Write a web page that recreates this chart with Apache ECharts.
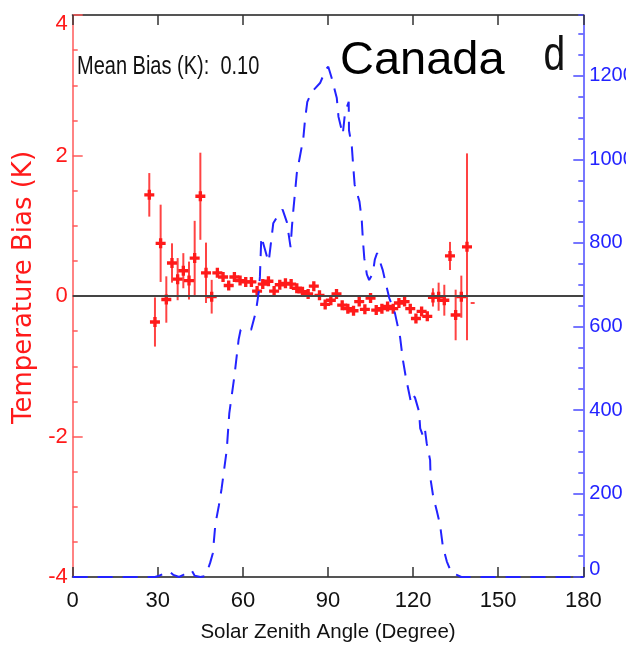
<!DOCTYPE html>
<html>
<head>
<meta charset="utf-8">
<script src="https://cdn.jsdelivr.net/npm/echarts@6/dist/echarts.min.js"></script>
<style>
html, body { margin: 0; padding: 0; background: #fff; }
#chart { width: 626px; height: 649px; }
</style>
</head>
<body>
<div id="chart"></div>
<script>
// Temperature bias binned by solar zenith angle (2-degree bins)
const zenithAngles = [27, 29, 31, 33, 35, 37, 39, 41, 43, 45, 47, 49, 51, 53, 55, 57, 59, 61, 63, 65,
  67, 69, 71, 73, 75, 77, 79, 81, 83, 85, 87, 89, 91, 93, 95, 97, 99, 101, 103, 105,
  107, 109, 111, 113, 115, 117, 119, 121, 123, 125, 127, 129, 131, 133, 135, 137, 139];
const tempBias = [1.44, -0.37, 0.75, -0.05, 0.47, 0.24, 0.36, 0.22, 0.54, 1.42, 0.33, -0.01, 0.33, 0.27, 0.15, 0.27, 0.22, 0.20, 0.20, 0.07,
  0.17, 0.21, 0.07, 0.16, 0.18, 0.17, 0.11, 0.06, 0.03, 0.14, 0.01, -0.12, -0.06, 0.03, -0.13, -0.18, -0.21, -0.08, -0.19, -0.03,
  -0.20, -0.18, -0.15, -0.18, -0.10, -0.08, -0.18, -0.32, -0.22, -0.29, -0.02, -0.01, -0.06, 0.57, -0.27, -0.01, 0.70];
const biasError = [0.31, 0.35, 0.55, 0.33, 0.28, 0.30, 0.25, 0.27, 0.53, 0.62, 0.43, 0.24, 0.06, 0.06, 0.06, 0.06, 0.06, 0.06, 0.06, 0.06,
  0.05, 0.05, 0.05, 0.05, 0.05, 0.05, 0.05, 0.05, 0.05, 0.05, 0.05, 0.05, 0.05, 0.05, 0.05, 0.05, 0.05, 0.06, 0.06, 0.06,
  0.06, 0.06, 0.06, 0.06, 0.06, 0.06, 0.06, 0.06, 0.06, 0.06, 0.13, 0.20, 0.22, 0.20, 0.36, 0.30, 1.33];
// Last bin with a single sample (no error estimate)
const tailAngle = [141];
const tailBias = [-0.1];

// Number of matchups per zenith angle
const countAngles = [0, 29, 30.5, 32, 34, 35.5, 37.5, 39, 40.5, 42, 43, 45, 46.5, 47.8, 48.5, 49.4, 50.3, 51.5, 52.5, 54.3,
  55.2, 57, 58.5, 59.2, 62.9, 64.6, 65.7, 66.0, 66.5, 68.8, 69.1, 70.7, 72.5, 74.0, 75.5, 76.8, 77.3, 77.8, 78.4, 79.0,
  80.1, 81.3, 81.9, 82.7, 84.3, 87.2, 88.4, 89.0, 90.1, 91.3, 93.1, 93.7, 95.2, 96.0, 97.3, 97.4, 98.4, 98.9, 99.4, 101.1,
  101.9, 102.3, 102.8, 103.7, 104.5, 105.8, 106.5, 107.3, 109.3, 110.1, 111.6, 113.6, 115.4, 116.4, 117.5, 119.2, 120.1, 120.7, 122.1, 122.5,
  123.6, 124.2, 124.8, 126.0, 126.2, 127.1, 128.3, 129.5, 130.5, 131.9, 133.5, 135.4, 137, 180];
const sampleCounts = [0, 0, 3, 8, 14, 5, 0, 5, 15, 15, 3, 0, 2, 21, 35, 57, 127, 170, 212, 304,
  392, 481, 569, 592, 592, 636, 688, 720, 815, 760, 755, 847, 868, 880, 850, 790, 840, 880, 923, 967,
  1007, 1051, 1095, 1138, 1162, 1183, 1202, 1214, 1222, 1195, 1147, 1102, 1060, 1112, 1138, 1070, 1031, 983, 939, 899,
  855, 807, 763, 725, 711, 727, 760, 776, 735, 711, 668, 632, 575, 520, 476, 420, 436, 429, 396, 356,
  336, 352, 320, 280, 232, 192, 160, 125, 73, 37, 10, 5, 0, 0];

const angleTicks = [0, 30, 60, 90, 120, 150, 180];
const biasTicks = [-4, -2, 0, 2, 4];
const countTicks = [0, 200, 400, 600, 800, 1000, 1200];

const SANS = "'Liberation Sans', Arial, sans-serif";
const RED = '#ff1a1a';
const BLUE = '#2323ff';
const COUNT_MAX = 1346;

const chart = echarts.init(document.getElementById('chart'));

const plusSymbol = 'path://M3,0H6V3H9V6H6V9H3V6H0V3H3Z';

chart.setOption({
  animation: false,
  backgroundColor: '#fff',
  grid: { left: 72.7, right: 42.7, top: 15, bottom: 72, outerBoundsMode: 'none', containLabel: false },
  xAxis: [
    {
      type: 'value', position: 'bottom',
      min: angleTicks[0], max: angleTicks[angleTicks.length - 1], interval: 30,
      axisLine: { onZero: false, lineStyle: { color: '#555', width: 2 } },
      axisTick: { inside: true, length: 10, lineStyle: { color: '#333', width: 1.5 } },
      axisLabel: { color: '#111', fontSize: 22, fontFamily: SANS, margin: 13 },
      splitLine: { show: false },
      name: 'Solar Zenith Angle (Degree)', nameLocation: 'middle', nameGap: 45,
      nameTextStyle: { color: '#111', fontSize: 20.5, fontFamily: SANS }
    },
    {
      type: 'value', position: 'top',
      min: angleTicks[0], max: angleTicks[angleTicks.length - 1], interval: 30,
      axisLine: { onZero: false, lineStyle: { color: '#555', width: 2 } },
      axisTick: { inside: true, length: 10, lineStyle: { color: '#333', width: 1.5 } },
      axisLabel: { show: false },
      splitLine: { show: false }
    }
  ],
  yAxis: [
    {
      type: 'value', position: 'left',
      min: biasTicks[0], max: biasTicks[biasTicks.length - 1], interval: 2,
      axisLine: { onZero: false, lineStyle: { color: '#ff5a5a', width: 1.5 } },
      axisTick: { inside: true, length: 10, lineStyle: { color: '#ff5a5a', width: 1.5 } },
      minorTick: { show: true, splitNumber: 4, length: 5, lineStyle: { color: '#ff5a5a', width: 1.5 } },
      axisLabel: {
        color: RED, fontSize: 22, fontFamily: SANS, margin: 5,
        formatter: v => (v === biasTicks[biasTicks.length - 1] ? '{top|' + v + '}' : String(v)),
        rich: { top: { color: RED, fontSize: 22, fontFamily: SANS, padding: [18, 0, 0, 0] } }
      },
      splitLine: { show: false }, minorSplitLine: { show: false },
      name: 'Temperature Bias (K)', nameLocation: 'middle', nameGap: 26, nameRotate: 90,
      nameTextStyle: { color: RED, fontSize: 26, fontFamily: "'DejaVu Sans', sans-serif", padding: [0, 0, 0, 17] }
    },
    {
      type: 'value', position: 'right',
      min: 0, max: COUNT_MAX,
      axisLine: { onZero: false, lineStyle: { color: '#4a4aff', width: 1.5 } },
      axisTick: { inside: true, length: 10, customValues: countTicks, lineStyle: { color: '#4a4aff', width: 1.5 } },
      axisLabel: {
        color: BLUE, fontSize: 20, fontFamily: SANS, margin: 6, customValues: countTicks,
        formatter: v => (v === 0 ? '{low|0}' : String(v)),
        rich: { low: { color: BLUE, fontSize: 20, fontFamily: SANS, padding: [0, 0, 16, 0] } }
      },
      splitLine: { show: false }
    },
    {
      type: 'value', position: 'right',
      min: 0, max: COUNT_MAX, interval: 50,
      axisLine: { show: false, onZero: false },
      axisTick: { inside: true, length: 5, lineStyle: { color: '#4a4aff', width: 1.5 } },
      axisLabel: { show: false },
      splitLine: { show: false }
    }
  ],
  series: [
    {
      type: 'custom',
      xAxisIndex: 0, yAxisIndex: 0,
      data: zenithAngles.map((a, i) => [a, tempBias[i] - biasError[i], tempBias[i] + biasError[i]]),
      encode: { x: 0, y: [1, 2] },
      renderItem: (params, api) => {
        const p0 = api.coord([api.value(0), api.value(1)]);
        const p1 = api.coord([api.value(0), api.value(2)]);
        return {
          type: 'line',
          shape: { x1: p0[0], y1: p0[1], x2: p1[0], y2: p1[1] },
          style: { stroke: 'rgba(255,20,20,0.8)', lineWidth: 2 }
        };
      },
      z: 2
    },
    {
      type: 'scatter',
      xAxisIndex: 0, yAxisIndex: 0,
      data: zenithAngles.map((a, i) => [a, tempBias[i]]),
      symbol: plusSymbol, symbolSize: 10,
      itemStyle: { color: RED, opacity: 1 },
      z: 3
    },
    {
      type: 'scatter',
      xAxisIndex: 0, yAxisIndex: 0,
      data: tailAngle.map((a, i) => [a, tailBias[i]]),
      symbol: 'rect', symbolSize: [4, 2],
      itemStyle: { color: RED },
      markLine: {
        silent: true, symbol: 'none', label: { show: false },
        lineStyle: { color: '#444', width: 2, type: 'solid' },
        data: [{ yAxis: 0 }]
      },
      z: 4
    },
    {
      type: 'line',
      xAxisIndex: 0, yAxisIndex: 1,
      data: countAngles.map((a, i) => [a, sampleCounts[i]]),
      symbol: 'none', clip: false,
      lineStyle: { color: BLUE, width: 2, type: [15, 10] },
      z: 5
    }
  ],
  graphic: [
    {
      type: 'text', x: 77, y: 67, scaleY: 1.33, z: 10,
      style: { text: 'Mean Bias (K):  0.10', font: "20px " + SANS, fill: '#111', verticalAlign: 'middle' }
    },
    {
      type: 'text', x: 340, y: 61, z: 10,
      style: { text: 'Canada', font: "47px " + SANS, fill: '#000', verticalAlign: 'middle' }
    },
    {
      type: 'text', x: 543.5, y: 57, scaleY: 1.23, z: 10,
      style: { text: 'd', font: "39px " + SANS, fill: '#111', verticalAlign: 'middle' }
    }
  ]
});
</script>
</body>
</html>
